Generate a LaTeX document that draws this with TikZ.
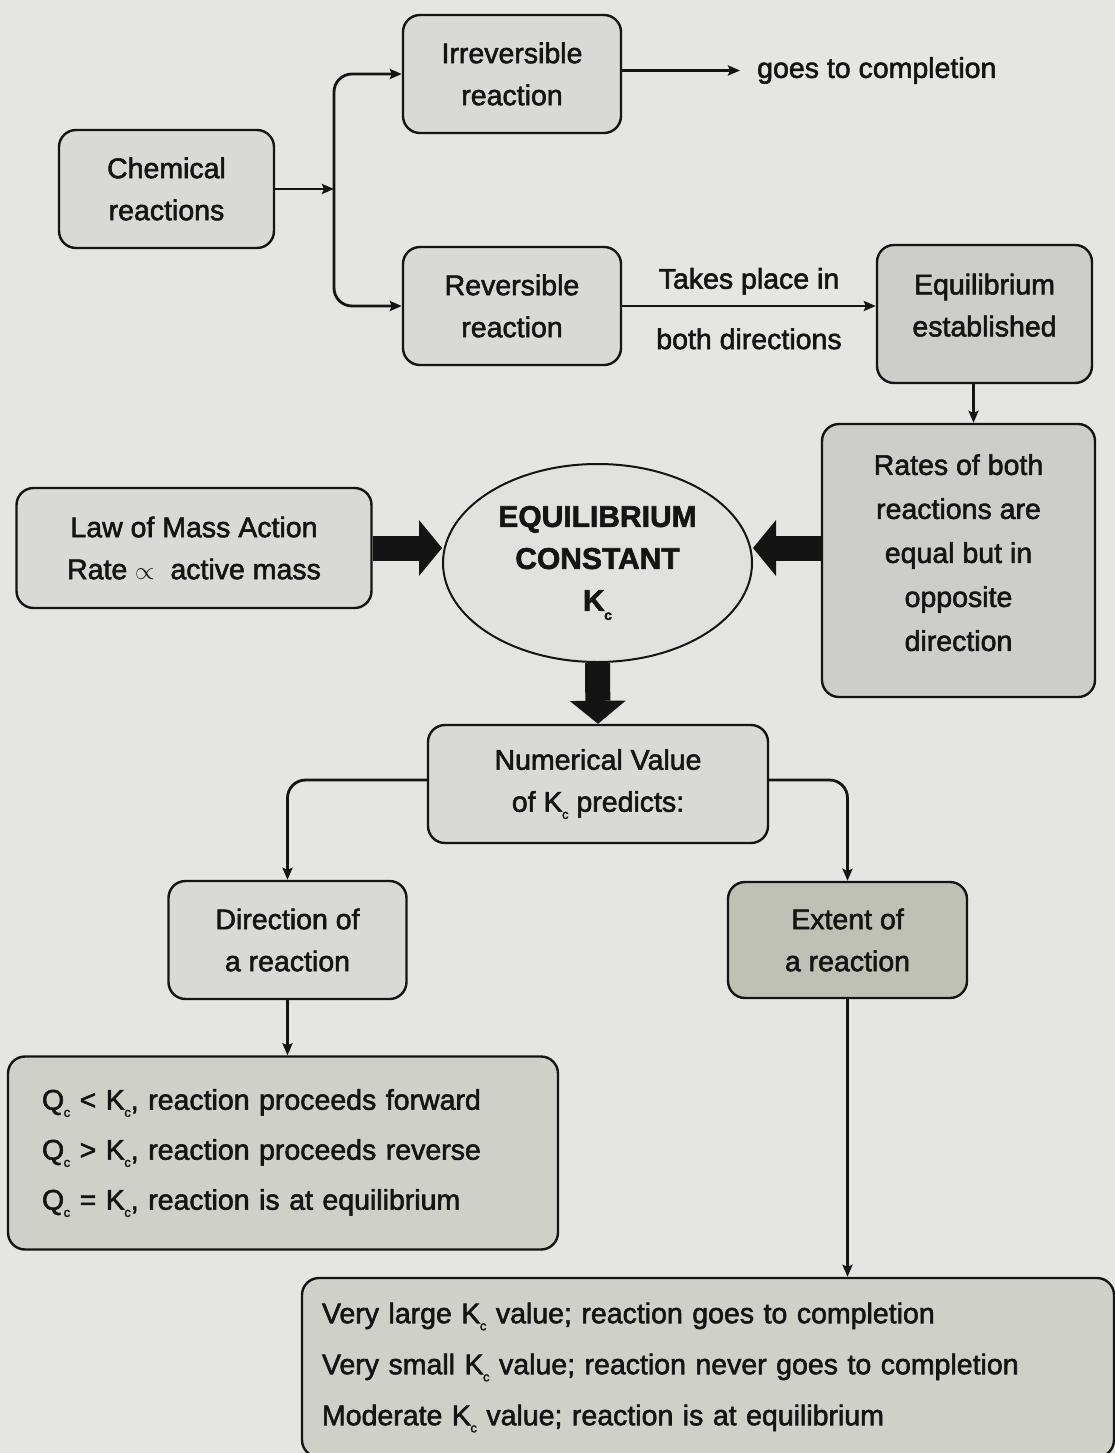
\documentclass[tikz,border=0pt]{standalone}
\usepackage{fontspec}
\setmainfont{Liberation Sans}[RawFeature={embolden=2}]
\usetikzlibrary{arrows.meta,shapes.geometric}
\definecolor{pagebg}{RGB}{229,229,226}
\definecolor{boxlight}{RGB}{217,217,214}
\definecolor{boxdark}{RGB}{205,205,201}
\definecolor{boxgreen}{RGB}{207,209,200}
\definecolor{extfill}{RGB}{190,193,179}
\definecolor{ellfill}{RGB}{225,225,222}
\definecolor{ink}{RGB}{20,20,20}
\newcommand\mysub[1]{\kern-0.5pt\raisebox{-0.25em}{\fontsize{13}{13}\selectfont #1}}
\newcommand\upby[2]{\raisebox{#1}[\height][\depth]{\begin{tabular}{@{}c@{}}#2\end{tabular}}}
\begin{document}
\begin{tikzpicture}[x=1pt,y=-1pt,
  box/.style={draw=ink, line width=2.4pt, rounded corners=17pt, fill=boxlight,
    align=center, inner sep=0pt, font=\fontsize{28.5}{42}\selectfont, text=ink},
  lbl/.style={inner sep=0pt, font=\fontsize{28.5}{42}\selectfont, text=ink},
  conn/.style={draw=ink, line width=2.8pt, -{Stealth[length=12pt,width=10pt,inset=2pt]}},
  fat/.style={draw=ink, line width=25pt, -{Triangle[length=23pt,width=56pt,line width=0pt]}}
]
\fill[pagebg] (0,0) rectangle (1115,1453);
\useasboundingbox (0,0) rectangle (1115,1453);

% nodes
\node[box, minimum width=215pt, minimum height=118pt] (chem) at (166.5,189) {Chemical\\reactions};
\node[box, minimum width=218pt, minimum height=118pt] (irr) at (512,74) {Irreversible\\reaction};
\node[box, minimum width=218pt, minimum height=118pt] (rev) at (512,306) {Reversible\\reaction};
\node[lbl, anchor=west] (goes) at (757,70.5) {goes to completion};
\node[box, fill=boxdark, minimum width=215pt, minimum height=138pt] (eqb) at (984.5,314)
  {\upby{7pt}{Equilibrium\\established}};
\node[box, fill=boxdark, minimum width=273pt, minimum height=273pt] (rates) at (958.5,560.5)
  {\upby{6pt}{Rates of both\\[2pt]reactions are\\[2pt]equal but in\\[2pt]opposite\\[2pt]direction}};
\node[box, minimum width=355pt, minimum height=120pt] (law) at (194,548) {Law of Mass Action\\Rate $\propto$ \ active mass};
\node[ellipse, draw=ink, line width=2pt, fill=ellfill, minimum width=309pt, minimum height=198pt, inner sep=0pt,
  align=center, text=ink, font=\bfseries\fontsize{30}{42}\selectfont] (ell) at (597.5,563)
  {EQUILIBRIUM\\CONSTANT\\K\kern-0.5pt\raisebox{-0.3em}{\fontsize{14}{14}\selectfont c}};
\node[box, minimum width=340pt, minimum height=118pt] (num) at (598,784) {Numerical Value\\of K\mysub{c} predicts:};
\node[box, minimum width=238pt, minimum height=118pt] (dir) at (287.5,940) {Direction of\\a reaction};
\node[box, fill=extfill, minimum width=239pt, minimum height=116pt] (ext) at (847.5,940) {Extent of\\a reaction};
\node[box, fill=boxgreen, minimum width=550pt, minimum height=193pt, align=left, text width=482pt, inner xsep=34pt,
  font=\fontsize{28.5}{50}\selectfont] (qbox) at (283,1153)
  {Q\mysub{c} < K\mysub{c}, reaction proceeds forward\\
   Q\mysub{c} > K\mysub{c}, reaction proceeds reverse\\
   Q\mysub{c} = K\mysub{c}, reaction is at equilibrium};
\node[box, fill=boxgreen, minimum width=812pt, minimum height=179pt, align=left, text width=772pt, inner xsep=20pt,
  font=\fontsize{28.5}{51}\selectfont] (bot) at (708,1367.5)
  {Very large K\mysub{c} value; reaction goes to completion\\
   Very small K\mysub{c} value; reaction never goes to completion\\
   Moderate K\mysub{c} value; reaction is at equilibrium};

% connectors
\coordinate (split) at (334,189);
\draw[conn] (chem.east) -- (split);
\draw[conn, rounded corners=18pt] (split) |- (irr.west);
\draw[conn, rounded corners=18pt] (split) |- (rev.west);
\draw[conn] (irr.east |- goes.west) -- ([xshift=-17pt]goes.west);
\draw[conn] (rev.east) -- (rev.east -| eqb.west)
  node[midway, above=10pt, lbl] {Takes place in}
  node[midway, below=21pt, lbl] {both directions};
\draw[conn] ([xshift=-11pt]eqb.south) -- ([xshift=-11pt]eqb.south |- rates.north);
\draw[fat] (law.east) -- (law.east -| ell.west);
\draw[fat] (rates.west |- law.east) -- (law.east -| ell.east);
\draw[fat] (ell.south) -- (num.north);
\draw[conn, rounded corners=18pt] ([yshift=4pt]num.west) -| (dir.north);
\draw[conn, rounded corners=18pt] ([yshift=4pt]num.east) -| (ext.north);
\draw[conn] (dir.south) -- (dir.south |- qbox.north);
\draw[conn] (ext.south) -- (ext.south |- bot.north);
\end{tikzpicture}
\end{document}
